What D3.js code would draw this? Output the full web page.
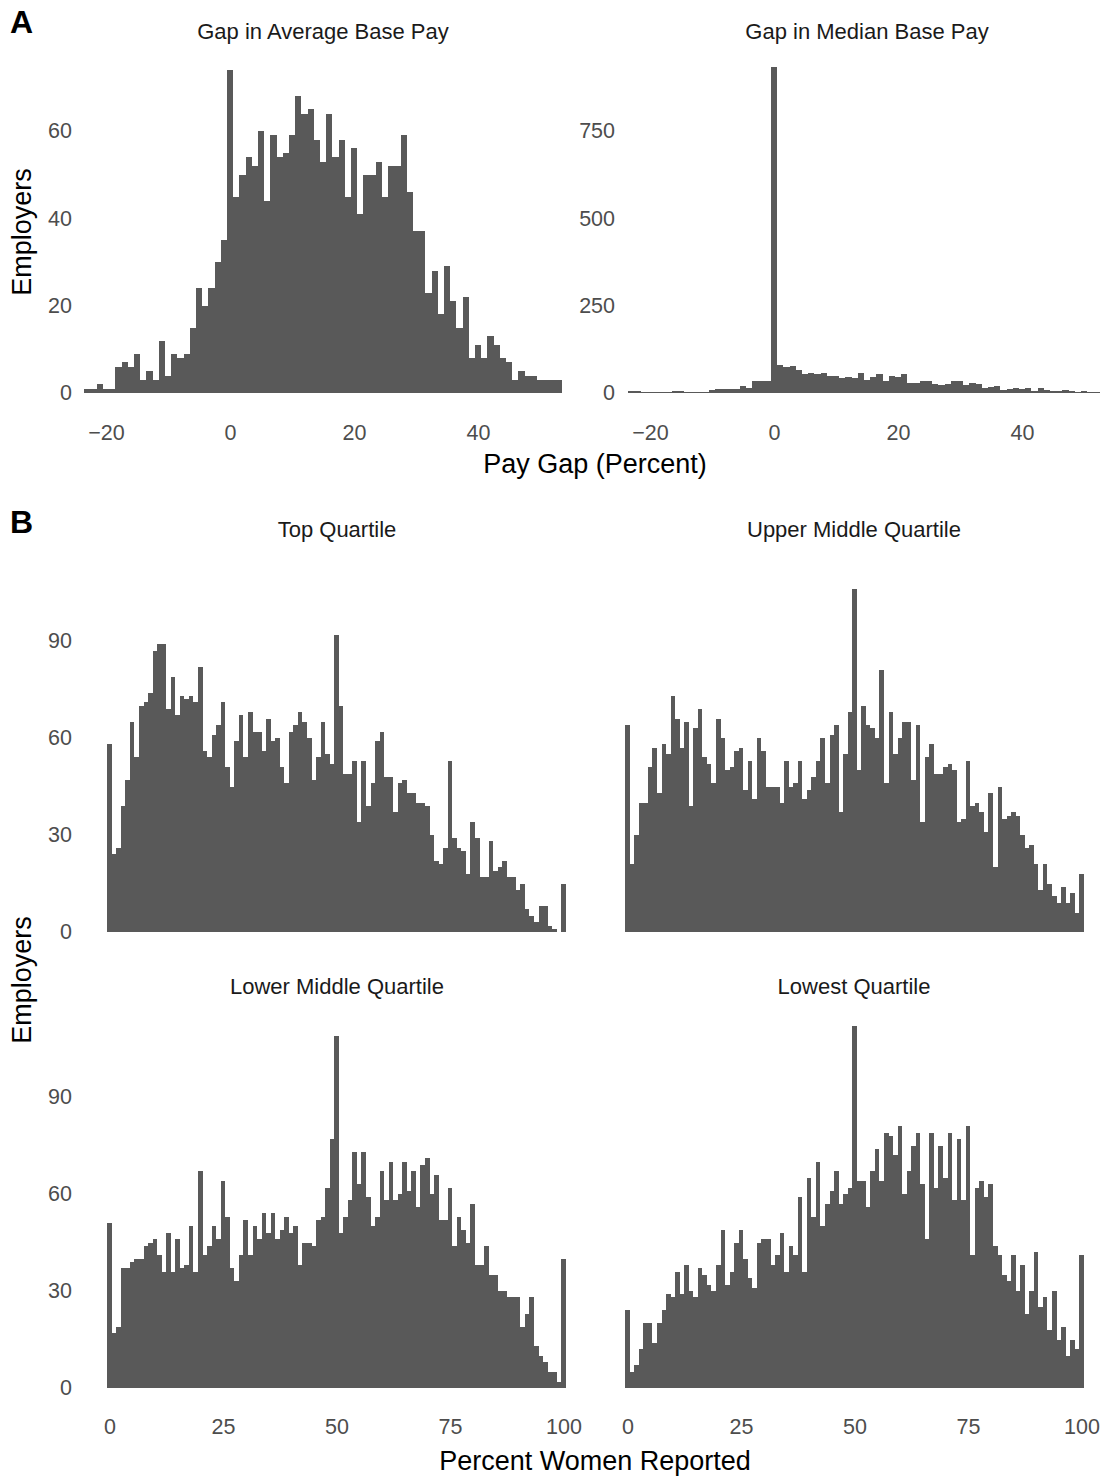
<!DOCTYPE html>
<html>
<head>
<meta charset="utf-8">
<script src="https://cdnjs.cloudflare.com/ajax/libs/d3/7.8.5/d3.min.js"></script>
<style>
  body { margin: 0; background: #fff; }
  text { font-family: "Liberation Sans", Arial, Helvetica, sans-serif; }
</style>
</head>
<body>
<div id="app"></div>
<script>
// panel A: pay gap histograms, one bar per percent, bins centred on -23 .. 53
const gapStart = -23;
const avgGap = [1,1,2,1,1,6,7,6,9,3,5,3,12,4,9,8,9,15,24,20,24,30,35,
  74,
  45,50,54,52,60,44,59,54,55,59,68,64,65,58,53,64,
  54,58,45,56,41,50,50,53,45,52,52,59,46,37,37,23,28,18,29,21,15,22,8,11,8,13,11,8,7,3,5,4,4,3,3,3,3];
const medGap = [7,7,4,4,4,2,2,5,7,4,4,4,4,10,12,12,12,12,21,15,35,33,33,
  932,
  81,73,76,67,53,58,53,56,50,50,44,47,44,56,38,47,53,35,50,47,
  53,30,30,33,35,27,24,27,33,33,24,30,27,15,18,21,10,12,15,12,15,7,15,10,7,7,10,7,4,7,4,4,1];

// panel B: percent women per quartile, bins 0 .. 100
const topQ = [58,24,26,39,47,65,54,70,71,74,87,89,89,69,79,67,73,72,73,71,82,56,54,61,64,71,51,45,59,67,54,68,62,62,56,66,59,60,51,46,62,64,68,65,60,47,54,65,55,52,92,
  70,49,49,53,34,53,39,46,59,62,48,48,37,46,47,43,43,40,40,39,30,22,21,26,53,29,26,25,18,34,29,17,17,28,19,20,22,17,17,13,15,7,5,3,8,8,2,1,0,15];
const upperMidQ = [64,21,30,40,40,51,57,43,58,55,73,66,57,65,39,63,69,54,52,46,66,60,50,51,56,57,44,53,41,60,56,45,45,45,40,53,45,46,53,41,44,48,53,60,46,61,64,37,55,68,106,
  50,70,64,63,60,81,46,68,55,60,65,65,47,64,34,54,58,49,49,51,52,50,34,35,53,39,40,37,31,43,20,45,35,36,37,36,30,26,27,21,13,21,15,11,9,14,9,12,6,18];
const lowerMidQ = [51,17,19,37,37,39,40,40,44,45,46,41,36,48,36,46,37,38,50,36,67,41,44,50,46,64,53,37,33,41,52,41,50,46,54,48,54,46,49,53,48,50,38,45,45,44,52,53,62,77,109,
  48,53,58,73,63,73,59,50,53,67,58,70,58,60,70,61,67,56,69,71,60,66,52,52,62,44,53,49,45,57,38,38,44,35,35,30,30,28,28,28,19,23,28,13,10,8,5,5,2,40];
const lowestQ = [24,5,7,12,20,20,14,20,24,29,28,36,29,38,30,28,37,35,32,30,38,
  49,32,36,45,49,40,34,31,45,46,46,38,41,48,36,44,41,59,36,65,53,70,50,57,61,67,57,60,62,112,
  64,64,56,67,74,64,79,78,72,81,60,67,75,79,63,46,79,62,75,65,79,58,77,58,81,41,62,64,59,63,
  44,41,35,33,41,30,38,23,30,42,25,28,18,30,15,19,10,15,12,41];

const gapTicks = [-20, 0, 20, 40];
const avgTicks = [0, 20, 40, 60];
const medTicks = [0, 250, 500, 750];
const womenTicks = [0, 25, 50, 75, 100];
const countTicks = [0, 30, 60, 90];

const w = 1109,
      h = 1477;
const barColor = "#595959",
      tickColor = "#4d4d4d",
      tickSize = 21.5,
      stripSize = 22,
      titleSize = 27;

const svg = d3.select("#app")
  .append("svg")
  .attr("width", w)
  .attr("height", h);

function drawHist(values, start, x, y, xTicks, yTicks, yLabelX, xLabelY) {
  const g = svg.append("g");

  g.selectAll("rect")
    .data(values)
    .enter()
    .append("rect")
    .attr("x", (d, i) => x(start + i - 0.5))
    .attr("width", (d, i) => x(start + i + 0.5) - x(start + i - 0.5))
    .attr("y", d => y(d))
    .attr("height", d => y(0) - y(d))
    .attr("fill", barColor)
    .attr("shape-rendering", "crispEdges");

  if (yLabelX != null) {
    const yAxis = d3.axisLeft(y).tickValues(yTicks).tickSize(0).tickPadding(0);
    const ga = g.append("g")
      .attr("transform", `translate(${yLabelX},0)`)
      .call(yAxis);
    ga.select(".domain").remove();
    ga.selectAll("text")
      .attr("font-size", tickSize)
      .attr("fill", tickColor)
      .attr("font-family", null);
  }
  if (xLabelY != null) {
    const xAxis = d3.axisBottom(x).tickValues(xTicks).tickSize(0).tickPadding(0);
    const ga = g.append("g")
      .attr("transform", `translate(0,${xLabelY})`)
      .call(xAxis);
    ga.select(".domain").remove();
    ga.selectAll("text")
      .attr("font-size", tickSize)
      .attr("fill", tickColor)
      .attr("font-family", null);
  }
}

function label(txt, x, y, size, opts = {}) {
  const t = svg.append("text")
    .attr("x", x)
    .attr("y", y)
    .attr("font-size", size)
    .attr("fill", opts.fill || "#000")
    .attr("text-anchor", opts.anchor || "middle")
    .attr("font-weight", opts.bold ? "bold" : null)
    .text(txt);
  if (opts.rotate) t.attr("transform", `rotate(-90,${x},${y})`);
  return t;
}

// ---- panel A ----
const xAvg = d3.scaleLinear().domain([-20, 40]).range([106, 478]);
const xMed = d3.scaleLinear().domain([-20, 40]).range([650, 1022]);
const yAvg = d3.scaleLinear().domain([0, 60]).range([393, 131]);
const yMed = d3.scaleLinear().domain([0, 750]).range([393, 131]);

drawHist(avgGap, gapStart, xAvg, yAvg, gapTicks, avgTicks, 72, 425);
drawHist(medGap, gapStart, xMed, yMed, gapTicks, medTicks, 615, 425);

label("A", 10, 33, 32, { anchor: "start", bold: true });
label("Gap in Average Base Pay", 323, 39, stripSize, { fill: "#1a1a1a" });
label("Gap in Median Base Pay", 867, 39, stripSize, { fill: "#1a1a1a" });
label("Pay Gap (Percent)", 595, 473, titleSize);
label("Employers", 31, 232, titleSize, { rotate: true });

// ---- panel B ----
const xLeftB = d3.scaleLinear().domain([0, 100]).range([109.5, 563.5]);
const xRightB = d3.scaleLinear().domain([0, 100]).range([627.5, 1081.5]);
const yTopB = d3.scaleLinear().domain([0, 90]).range([932, 641]);
const yBotB = d3.scaleLinear().domain([0, 90]).range([1388, 1097]);

drawHist(topQ, 0, xLeftB, yTopB, womenTicks, countTicks, 72, null);
drawHist(upperMidQ, 0, xRightB, yTopB, womenTicks, countTicks, null, null);
drawHist(lowerMidQ, 0, xLeftB, yBotB, womenTicks, countTicks, 72, 1419);
drawHist(lowestQ, 0, xRightB, yBotB, womenTicks, countTicks, null, 1419);

label("B", 10, 533, 32, { anchor: "start", bold: true });
label("Top Quartile", 337, 537, stripSize, { fill: "#1a1a1a" });
label("Upper Middle Quartile", 854, 537, stripSize, { fill: "#1a1a1a" });
label("Lower Middle Quartile", 337, 994, stripSize, { fill: "#1a1a1a" });
label("Lowest Quartile", 854, 994, stripSize, { fill: "#1a1a1a" });
label("Percent Women Reported", 595, 1470, titleSize);
label("Employers", 31, 980, titleSize, { rotate: true });
</script>
</body>
</html>
